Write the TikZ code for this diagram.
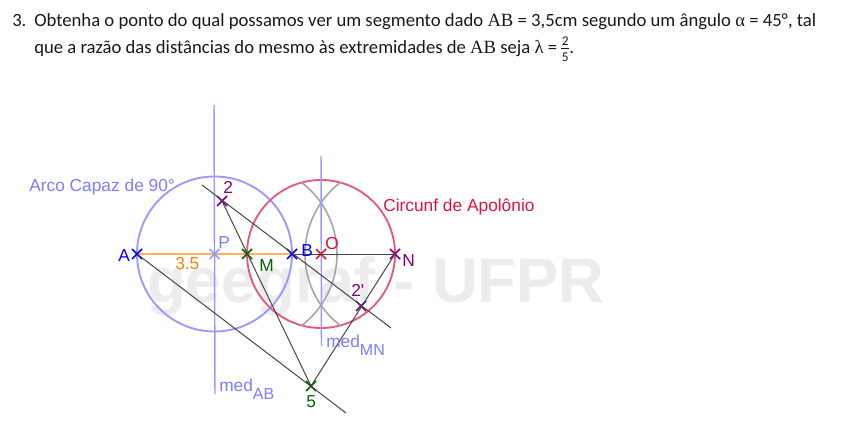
\documentclass[tikz,border=0pt]{standalone}
\usepackage{fontspec}
\setmainfont{Carlito}
\newfontfamily\lab{Liberation Sans}
\newfontfamily\mth{Liberation Serif}
\usetikzlibrary{shapes.misc}
\definecolor{cblue}{RGB}{0,0,255}
\definecolor{lblue}{RGB}{153,153,255}
\definecolor{labblue}{RGB}{125,125,255}
\definecolor{cred}{RGB}{220,20,60}
\definecolor{ared}{RGB}{230,90,120}
\definecolor{cpurple}{RGB}{128,0,128}
\definecolor{cgreen}{RGB}{0,100,0}
\definecolor{corange}{RGB}{255,128,0}
\definecolor{lorange}{RGB}{255,175,100}
\definecolor{dline}{RGB}{70,70,70}
\definecolor{arcg}{RGB}{165,165,165}
\definecolor{wm}{RGB}{236,236,236}
\newcommand{\subt}[1]{\raisebox{-6pt}{\fontsize{12}{14}\selectfont #1}}
\tikzset{
  x=0.75pt,y=-0.75pt,
  mk/.style={cross out,draw=#1,line width=1.3pt,minimum size=7.5pt,inner sep=0pt,outer sep=0pt},
  lb/.style={font=\lab\fontsize{13}{15}\selectfont,inner sep=0pt,anchor=base west,text=#1},
  body/.style={font=\fontsize{14}{16}\selectfont,inner sep=0pt,anchor=base west,text=black!90},
  ln/.style={draw=dline,line width=0.75pt},
  medline/.style={draw=lblue,line width=1.1pt},
  arcline/.style={draw=arcg,line width=1.2pt},
}
\begin{document}
\begin{tikzpicture}
\useasboundingbox (0,0) rectangle (855,445);
\fill[white] (0,0) rectangle (855,445);
\node[font=\lab\bfseries\fontsize{47.5}{50}\selectfont,text=wm,inner sep=0,anchor=base west] (wmark) at (147,302) {geegraf - UFPR};
\node[body] (num) at (12,27) {3.};
\node[body] (l1) at (34,27) {Obtenha o ponto do qual possamos ver um segmento dado {\mth AB} = 3,5cm segundo um ângulo {\mth α} = 45°, tal};
\node[body] (l2) at (34,54) {que a razão das distâncias do mesmo às extremidades de {\mth AB} seja {\mth λ} = $\vcenter{\hbox{\fontsize{10}{11}\selectfont\shortstack{2\\[-1pt]\rule[2pt]{6pt}{0.4pt}\\[-2pt]5}}}$.};
% coordinates
\coordinate (cP) at (214.5,254);
\coordinate (cO) at (321,254);
\coordinate (t1) at (202,185);
\coordinate (t2) at (391,328);
\coordinate (t3) at (346,413);
\coordinate (ma) at (214,105);
\coordinate (mb) at (215,394);
\coordinate (mc) at (321,156);
\coordinate (md) at (321.5,346);
% points (positions)
\coordinate (cM) at (247,254);
\coordinate (cN) at (395,254);
% circles
\draw[lblue,line width=1.4pt] (cP) circle [radius=77.5];
\draw[ared,line width=1.4pt] (cO) circle [radius=74];
% arcs
\draw[arcline] ([shift={(-53:90)}]cM) arc [start angle=-53,end angle=53,radius=90];
\draw[arcline] ([shift={(233:90)}]cN) arc [start angle=233,end angle=127,radius=90];
% lines
\draw[medline] (ma) -- (mb);
\draw[medline] (mc) -- (md);
\draw[lorange,line width=1.1pt] (137,254) -- (292,254);
\node[mk=cblue] (A) at (137,254) {};
\node[mk=cblue] (B) at (292,254) {};
\node[mk=lblue] (P) at (214.5,254) {};
\node[mk=cgreen] (M) at (cM) {};
\node[mk=cred] (O) at (cO) {};
\node[mk=cpurple] (N) at (cN) {};
\node[mk=cpurple] (two) at (222,201) {};
\node[mk=cpurple] (twop) at (361,306) {};
\node[mk=cgreen] (five) at (311,386) {};
\draw[ln] (B.center) -- (N.center);
\draw[ln] (t1) -- (t2);
\draw[ln] (A.center) -- (t3);
\draw[ln] (two.center) -- (five.center);
\draw[ln] (N.center) -- (five.center);
% labels
\node[lb=labblue] (arco) at (29,191) {Arco Capaz de 90°};
\node[lb=cred] (apol) at (383,211) {Circunf de Apolônio};
\node[lb=cblue] (lA) at (118,261) {A};
\node[lb=cblue] (lB) at (301,256) {B};
\node[lb=labblue] (lP) at (218,248) {P};
\node[lb=corange] (l35) at (175,269) {3.5};
\node[lb=cgreen] (lM) at (259,271) {M};
\node[lb=cred] (lO) at (325,249) {O};
\node[lb=cpurple] (lN) at (402,266) {N};
\node[lb=cpurple] (l2p) at (351,296) {2'};
\node[lb=cpurple] (l2n) at (223,194) {2};
\node[lb=cgreen] (l5) at (306,407) {5};
\node[lb=labblue] (lmab) at (219,391) {med\subt{AB}};
\node[lb=labblue] (lmmn) at (326,347) {med\subt{MN}};
\end{tikzpicture}
\end{document}
